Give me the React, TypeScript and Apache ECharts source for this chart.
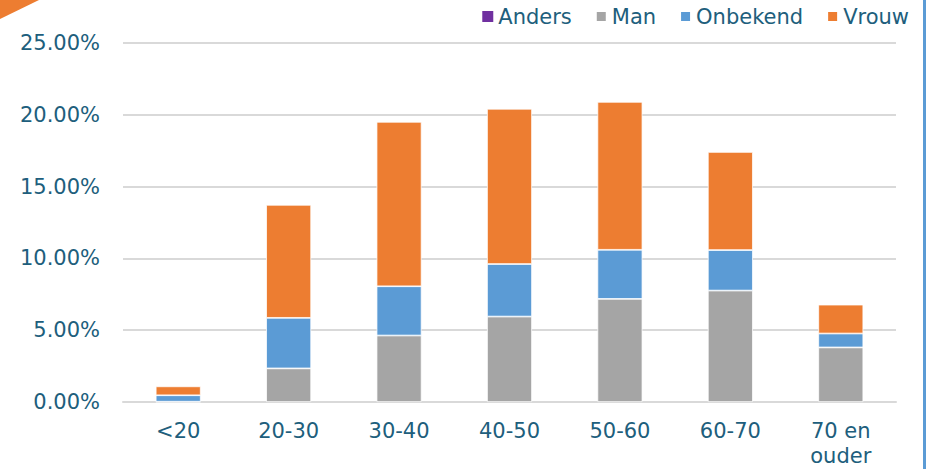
import React, { useEffect, useRef } from "react";
import * as echarts from "echarts";

const categories = ["<20", "20-30", "30-40", "40-50", "50-60", "60-70", "70 en\nouder"];
const anders = [0, 0, 0, 0, 0, 0, 0];
const man = [0.02, 2.34, 4.63, 5.95, 7.18, 7.76, 3.8];
const onbekend = [0.45, 3.52, 3.43, 3.66, 3.42, 2.82, 0.97];
const vrouw = [0.62, 7.87, 11.45, 10.81, 10.3, 6.83, 2.01];
const yTicks = [0, 5, 10, 15, 20, 25];

const TEXT = "#205e7c";
const FONT = "DejaVu Sans";

export default function App() {
  const ref = useRef<HTMLDivElement>(null);
  useEffect(() => {
    if (!ref.current) return;
    const chart = echarts.init(ref.current, null, { renderer: "svg" });
    const mk = (name: string, data: number[], color: string, bw: number) => ({
      name,
      type: "bar",
      stack: "total",
      data,
      barWidth: 45,
      itemStyle: { color, borderColor: "#ffffff", borderWidth: bw },
      emphasis: { disabled: true },
    });
    chart.setOption({
      animation: false,
      textStyle: { fontFamily: FONT },
      legend: {
        right: 13,
        top: 1,
        itemWidth: 11,
        itemHeight: 11,
        itemGap: 23,
        icon: "rect",
        textStyle: { color: TEXT, fontSize: 21, fontFamily: FONT },
        data: ["Anders", "Man", "Onbekend", "Vrouw"],
      },
      grid: { left: 123, right: 31, top: 43, bottom: 67, containLabel: false },
      xAxis: {
        type: "category",
        data: categories,
        axisLine: { show: true, lineStyle: { color: "#d9d9d9", width: 2 } },
        axisTick: { show: false },
        axisLabel: {
          color: TEXT,
          fontSize: 21,
          fontFamily: FONT,
          margin: 16,
          lineHeight: 25,
          interval: 0,
        },
      },
      yAxis: {
        type: "value",
        min: yTicks[0],
        max: yTicks[yTicks.length - 1],
        interval: 5,
        axisLine: { show: false },
        axisTick: { show: false },
        splitLine: { lineStyle: { color: "#d9d9d9", width: 2 } },
        axisLabel: {
          color: TEXT,
          fontSize: 21,
          fontFamily: FONT,
          margin: 23,
          formatter: (v: number) => v.toFixed(2) + "%",
        },
      },
      graphic: [
        {
          type: "polygon",
          shape: { points: [[0, 0], [39, 0], [0, 19]] },
          style: { fill: "#ed7d31" },
        },
        {
          type: "rect",
          shape: { x: 923, y: 0, width: 3, height: 469 },
          style: { fill: "#5b9bd5" },
        },
      ],
      series: [
        mk("Anders", anders, "#7030a0", 0),
        mk("Man", man, "#a5a5a5", 0.75),
        mk("Onbekend", onbekend, "#5b9bd5", 0.75),
        mk("Vrouw", vrouw, "#ed7d31", 0.75),
      ],
    });
    return () => chart.dispose();
  }, []);
  return (
    <div
      ref={ref}
      style={{ position: "fixed", left: 0, top: 0, width: 927, height: 469, background: "#fff" }}
    />
  );
}
